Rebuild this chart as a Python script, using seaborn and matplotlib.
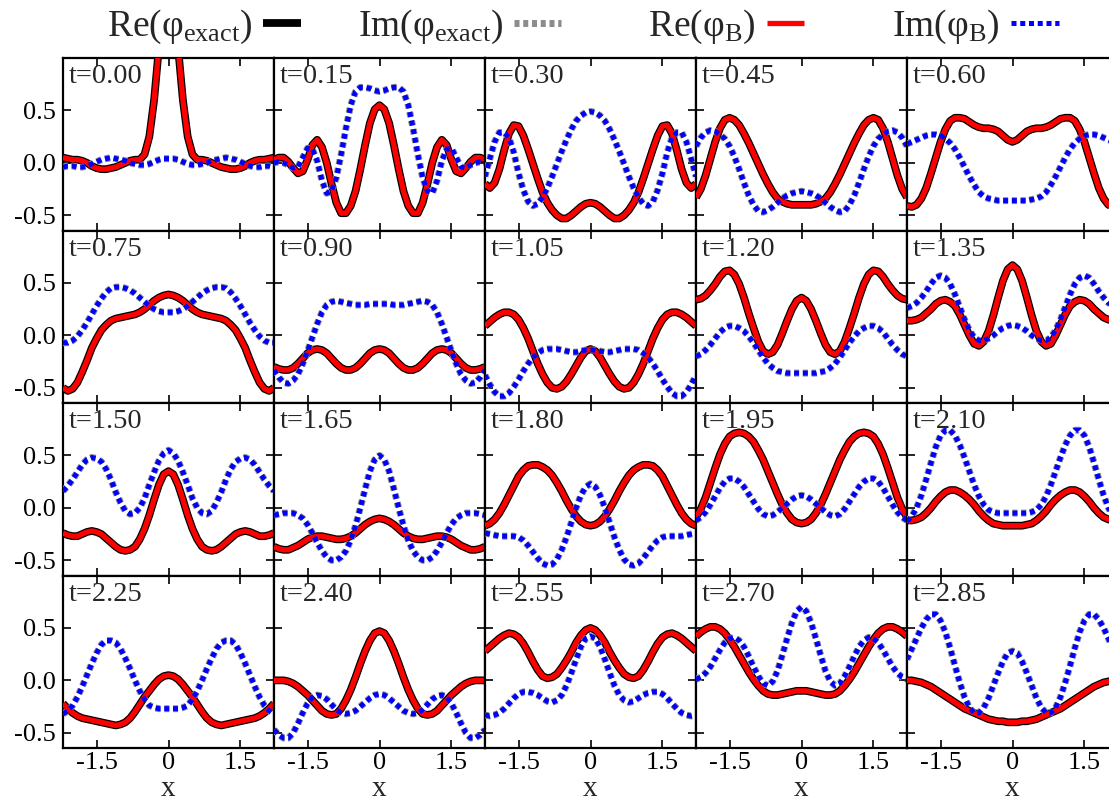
import numpy as np
import matplotlib
matplotlib.use("Agg")
import matplotlib.pyplot as plt
import seaborn as sns

# ---------------- data ----------------
x_grid = np.round(np.linspace(-2.2, 2.2, 45), 2)
times = ["0.00", "0.15", "0.30", "0.45", "0.60", "0.75", "0.90", "1.05", "1.20", "1.35",
         "1.50", "1.65", "1.80", "1.95", "2.10", "2.25", "2.40", "2.55", "2.70", "2.85"]
x_tick_vals = [-1.5, 0, 1.5]
x_tick_labels = ["-1.5", "0", "1.5"]
y_tick_vals = [-0.5, 0.0, 0.5]
y_tick_labels = ["-0.5", "0.0", "0.5"]
legend_labels = [r"Re(φ$_{\mathrm{exact}}$)", r"Im(φ$_{\mathrm{exact}}$)",
                 r"Re(φ$_{\mathrm{B}}$)", r"Im(φ$_{\mathrm{B}}$)"]

re_000 = [0.05, 0.04, 0.03, 0.03, 0.02, 0.0, -0.03, -0.05, -0.06, -0.06, -0.05, -0.04, -0.02, 0.0, 0.02, 0.03, 0.03, 0.08, 0.25, 0.6, 1.1, 1.6, 1.8, 1.6, 1.1, 0.6, 0.25, 0.08, 0.03, 0.03, 0.02, 0.0, -0.02, -0.04, -0.05, -0.06, -0.06, -0.05, -0.03, 0.0, 0.02, 0.03, 0.03, 0.04, 0.05]
im_000 = [-0.04, -0.03, -0.03, -0.04, -0.04, -0.03, -0.01, 0.01, 0.03, 0.04, 0.05, 0.04, 0.03, 0.02, 0.0, -0.01, -0.02, -0.02, -0.01, 0.01, 0.03, 0.04, 0.04, 0.04, 0.03, 0.01, -0.01, -0.02, -0.02, -0.01, 0.0, 0.02, 0.03, 0.04, 0.05, 0.04, 0.03, 0.01, -0.01, -0.03, -0.04, -0.04, -0.03, -0.03, -0.04]
re_015 = [0.03, 0.05, 0.05, 0.01, -0.05, -0.1, -0.08, 0.03, 0.17, 0.22, 0.15, 0.0, -0.2, -0.38, -0.48, -0.48, -0.41, -0.27, -0.06, 0.17, 0.38, 0.51, 0.55, 0.51, 0.38, 0.17, -0.06, -0.27, -0.41, -0.48, -0.48, -0.38, -0.2, 0.0, 0.15, 0.22, 0.17, 0.03, -0.08, -0.1, -0.05, 0.01, 0.05, 0.05, 0.03]
im_015 = [0.0, 0.01, 0.0, -0.02, -0.05, -0.04, 0.05, 0.14, 0.13, 0.02, -0.17, -0.29, -0.27, -0.14, 0.08, 0.33, 0.55, 0.68, 0.72, 0.72, 0.71, 0.69, 0.68, 0.69, 0.71, 0.72, 0.72, 0.68, 0.55, 0.33, 0.08, -0.14, -0.27, -0.29, -0.17, 0.02, 0.13, 0.14, 0.05, -0.04, -0.05, -0.02, 0.0, 0.01, 0.0]
re_030 = [-0.20, -0.24, -0.19, -0.06, 0.12, 0.28, 0.36, 0.35, 0.26, 0.13, -0.01, -0.15, -0.28, -0.38, -0.45, -0.50, -0.53, -0.53, -0.50, -0.46, -0.42, -0.39, -0.38, -0.39, -0.42, -0.46, -0.50, -0.53, -0.53, -0.50, -0.45, -0.38, -0.28, -0.15, -0.01, 0.13, 0.26, 0.35, 0.36, 0.28, 0.12, -0.06, -0.19, -0.24, -0.20]
im_030 = [-0.13, 0.04, 0.20, 0.29, 0.29, 0.24, 0.10, -0.10, -0.26, -0.37, -0.41, -0.39, -0.33, -0.24, -0.13, -0.01, 0.11, 0.22, 0.32, 0.40, 0.45, 0.48, 0.49, 0.48, 0.45, 0.40, 0.32, 0.22, 0.11, -0.01, -0.13, -0.24, -0.33, -0.39, -0.41, -0.37, -0.26, -0.10, 0.10, 0.24, 0.29, 0.29, 0.20, 0.04, -0.13]
re_045 = [-0.33, -0.25, -0.12, 0.04, 0.20, 0.33, 0.41, 0.43, 0.41, 0.36, 0.28, 0.19, 0.09, -0.01, -0.11, -0.20, -0.28, -0.34, -0.37, -0.39, -0.40, -0.40, -0.40, -0.40, -0.40, -0.39, -0.37, -0.34, -0.28, -0.20, -0.11, -0.01, 0.09, 0.19, 0.28, 0.36, 0.41, 0.43, 0.41, 0.33, 0.20, 0.04, -0.12, -0.25, -0.33]
im_045 = [0.16, 0.24, 0.29, 0.31, 0.30, 0.27, 0.23, 0.16, 0.06, -0.06, -0.19, -0.31, -0.40, -0.46, -0.47, -0.45, -0.42, -0.38, -0.34, -0.31, -0.29, -0.28, -0.27, -0.28, -0.29, -0.31, -0.34, -0.38, -0.42, -0.45, -0.47, -0.46, -0.40, -0.31, -0.19, -0.06, 0.06, 0.16, 0.23, 0.27, 0.30, 0.31, 0.29, 0.24, 0.16]
re_060 = [-0.41, -0.42, -0.40, -0.34, -0.24, -0.10, 0.05, 0.20, 0.32, 0.40, 0.43, 0.43, 0.42, 0.39, 0.36, 0.34, 0.33, 0.33, 0.32, 0.30, 0.26, 0.22, 0.20, 0.22, 0.26, 0.30, 0.32, 0.33, 0.33, 0.34, 0.36, 0.39, 0.42, 0.43, 0.43, 0.40, 0.32, 0.20, 0.05, -0.10, -0.24, -0.34, -0.40, -0.42, -0.41]
im_060 = [0.18, 0.20, 0.22, 0.24, 0.26, 0.27, 0.27, 0.26, 0.23, 0.19, 0.13, 0.05, -0.04, -0.13, -0.21, -0.28, -0.32, -0.34, -0.35, -0.36, -0.36, -0.36, -0.36, -0.36, -0.36, -0.36, -0.35, -0.34, -0.32, -0.28, -0.21, -0.13, -0.04, 0.05, 0.13, 0.19, 0.23, 0.26, 0.27, 0.27, 0.26, 0.24, 0.22, 0.20, 0.18]
re_075 = [-0.50, -0.53, -0.51, -0.45, -0.35, -0.24, -0.12, -0.03, 0.05, 0.10, 0.14, 0.16, 0.17, 0.18, 0.19, 0.20, 0.22, 0.25, 0.29, 0.33, 0.36, 0.38, 0.39, 0.38, 0.36, 0.33, 0.29, 0.25, 0.22, 0.20, 0.19, 0.18, 0.17, 0.16, 0.14, 0.10, 0.05, -0.03, -0.12, -0.24, -0.35, -0.45, -0.51, -0.53, -0.50]
im_075 = [-0.07, -0.07, -0.05, -0.01, 0.05, 0.12, 0.20, 0.28, 0.35, 0.41, 0.45, 0.46, 0.46, 0.45, 0.43, 0.40, 0.36, 0.32, 0.28, 0.25, 0.23, 0.22, 0.22, 0.22, 0.23, 0.25, 0.28, 0.32, 0.36, 0.40, 0.43, 0.45, 0.46, 0.46, 0.45, 0.41, 0.35, 0.28, 0.20, 0.12, 0.05, -0.01, -0.05, -0.07, -0.07]
re_090 = [-0.30, -0.32, -0.33, -0.33, -0.31, -0.27, -0.22, -0.17, -0.14, -0.13, -0.14, -0.17, -0.22, -0.27, -0.31, -0.33, -0.33, -0.31, -0.27, -0.22, -0.17, -0.14, -0.13, -0.14, -0.17, -0.22, -0.27, -0.31, -0.33, -0.33, -0.31, -0.27, -0.22, -0.17, -0.14, -0.13, -0.14, -0.17, -0.22, -0.27, -0.31, -0.33, -0.33, -0.32, -0.30]
im_090 = [-0.33, -0.40, -0.45, -0.46, -0.43, -0.37, -0.27, -0.15, -0.02, 0.11, 0.22, 0.29, 0.32, 0.33, 0.32, 0.31, 0.30, 0.29, 0.29, 0.29, 0.30, 0.30, 0.30, 0.30, 0.30, 0.29, 0.29, 0.29, 0.30, 0.31, 0.32, 0.33, 0.32, 0.29, 0.22, 0.11, -0.02, -0.15, -0.27, -0.37, -0.43, -0.46, -0.45, -0.40, -0.33]
re_105 = [0.09, 0.13, 0.17, 0.20, 0.22, 0.22, 0.20, 0.15, 0.07, -0.03, -0.15, -0.27, -0.37, -0.45, -0.50, -0.51, -0.49, -0.44, -0.37, -0.29, -0.21, -0.15, -0.13, -0.15, -0.21, -0.29, -0.37, -0.44, -0.49, -0.51, -0.50, -0.45, -0.37, -0.27, -0.15, -0.03, 0.07, 0.15, 0.20, 0.22, 0.22, 0.20, 0.17, 0.13, 0.09]
im_105 = [-0.38, -0.47, -0.54, -0.58, -0.58, -0.55, -0.49, -0.42, -0.34, -0.27, -0.21, -0.17, -0.14, -0.13, -0.13, -0.13, -0.14, -0.15, -0.16, -0.16, -0.15, -0.14, -0.14, -0.14, -0.15, -0.16, -0.16, -0.15, -0.14, -0.13, -0.13, -0.13, -0.14, -0.17, -0.21, -0.27, -0.34, -0.42, -0.49, -0.55, -0.58, -0.58, -0.54, -0.47, -0.38]
re_120 = [0.34, 0.35, 0.38, 0.43, 0.49, 0.56, 0.61, 0.62, 0.58, 0.49, 0.36, 0.21, 0.07, -0.06, -0.15, -0.18, -0.16, -0.09, 0.02, 0.14, 0.25, 0.33, 0.36, 0.33, 0.25, 0.14, 0.02, -0.09, -0.16, -0.18, -0.15, -0.06, 0.07, 0.21, 0.36, 0.49, 0.58, 0.62, 0.61, 0.56, 0.49, 0.43, 0.38, 0.35, 0.34]
im_120 = [-0.20, -0.18, -0.14, -0.09, -0.03, 0.03, 0.07, 0.09, 0.09, 0.07, 0.04, -0.01, -0.07, -0.14, -0.21, -0.27, -0.31, -0.34, -0.35, -0.36, -0.36, -0.36, -0.36, -0.36, -0.36, -0.36, -0.35, -0.34, -0.31, -0.27, -0.21, -0.14, -0.07, -0.01, 0.04, 0.07, 0.09, 0.09, 0.07, 0.03, -0.03, -0.09, -0.14, -0.18, -0.20]
re_135 = [0.14, 0.14, 0.15, 0.17, 0.21, 0.25, 0.30, 0.33, 0.34, 0.32, 0.28, 0.20, 0.10, 0.0, -0.08, -0.10, -0.06, 0.04, 0.19, 0.36, 0.52, 0.63, 0.67, 0.63, 0.52, 0.36, 0.19, 0.04, -0.06, -0.10, -0.08, 0.0, 0.10, 0.20, 0.28, 0.32, 0.34, 0.33, 0.30, 0.25, 0.21, 0.17, 0.15, 0.14, 0.14]
im_135 = [0.26, 0.28, 0.31, 0.36, 0.42, 0.49, 0.55, 0.57, 0.55, 0.49, 0.39, 0.27, 0.15, 0.05, -0.02, -0.05, -0.05, -0.03, 0.0, 0.04, 0.07, 0.09, 0.10, 0.09, 0.07, 0.04, 0.0, -0.03, -0.05, -0.05, -0.02, 0.05, 0.15, 0.27, 0.39, 0.49, 0.55, 0.57, 0.55, 0.49, 0.42, 0.36, 0.31, 0.28, 0.26]
re_150 = [-0.24, -0.26, -0.27, -0.27, -0.25, -0.23, -0.22, -0.23, -0.25, -0.29, -0.33, -0.37, -0.40, -0.41, -0.40, -0.37, -0.30, -0.20, -0.07, 0.08, 0.22, 0.32, 0.35, 0.32, 0.22, 0.08, -0.07, -0.20, -0.30, -0.37, -0.40, -0.41, -0.40, -0.37, -0.33, -0.29, -0.25, -0.23, -0.22, -0.23, -0.25, -0.27, -0.27, -0.26, -0.24]
im_150 = [0.16, 0.21, 0.27, 0.34, 0.41, 0.46, 0.48, 0.47, 0.44, 0.37, 0.27, 0.15, 0.05, -0.03, -0.06, -0.05, 0.0, 0.09, 0.22, 0.34, 0.45, 0.52, 0.55, 0.52, 0.45, 0.34, 0.22, 0.09, 0.0, -0.05, -0.06, -0.03, 0.05, 0.15, 0.27, 0.37, 0.44, 0.47, 0.48, 0.46, 0.41, 0.34, 0.27, 0.21, 0.16]
re_165 = [-0.37, -0.39, -0.40, -0.40, -0.38, -0.36, -0.33, -0.30, -0.28, -0.27, -0.27, -0.28, -0.29, -0.30, -0.30, -0.29, -0.27, -0.24, -0.20, -0.16, -0.13, -0.11, -0.10, -0.11, -0.13, -0.16, -0.20, -0.24, -0.27, -0.29, -0.30, -0.30, -0.29, -0.28, -0.27, -0.27, -0.28, -0.30, -0.33, -0.36, -0.38, -0.40, -0.40, -0.39, -0.37]
im_165 = [-0.07, -0.06, -0.05, -0.05, -0.05, -0.07, -0.10, -0.16, -0.24, -0.33, -0.41, -0.47, -0.50, -0.50, -0.47, -0.41, -0.31, -0.17, 0.0, 0.18, 0.35, 0.46, 0.50, 0.46, 0.35, 0.18, 0.0, -0.17, -0.31, -0.41, -0.47, -0.50, -0.50, -0.47, -0.41, -0.33, -0.24, -0.16, -0.10, -0.07, -0.05, -0.05, -0.05, -0.06, -0.07]
re_180 = [-0.17, -0.15, -0.11, -0.05, 0.03, 0.12, 0.21, 0.30, 0.36, 0.40, 0.41, 0.41, 0.39, 0.36, 0.31, 0.24, 0.16, 0.07, -0.01, -0.08, -0.13, -0.16, -0.17, -0.16, -0.13, -0.08, -0.01, 0.07, 0.16, 0.24, 0.31, 0.36, 0.39, 0.41, 0.41, 0.40, 0.36, 0.30, 0.21, 0.12, 0.03, -0.05, -0.11, -0.15, -0.17]
im_180 = [-0.24, -0.25, -0.26, -0.27, -0.27, -0.27, -0.27, -0.28, -0.31, -0.36, -0.42, -0.48, -0.53, -0.55, -0.54, -0.49, -0.40, -0.28, -0.14, 0.0, 0.12, 0.20, 0.23, 0.20, 0.12, 0.0, -0.14, -0.28, -0.40, -0.49, -0.54, -0.55, -0.53, -0.48, -0.42, -0.36, -0.31, -0.28, -0.27, -0.27, -0.27, -0.27, -0.26, -0.25, -0.24]
re_195 = [-0.09, -0.01, 0.10, 0.24, 0.38, 0.51, 0.61, 0.68, 0.71, 0.72, 0.71, 0.68, 0.63, 0.55, 0.46, 0.35, 0.24, 0.13, 0.03, -0.05, -0.11, -0.14, -0.15, -0.14, -0.11, -0.05, 0.03, 0.13, 0.24, 0.35, 0.46, 0.55, 0.63, 0.68, 0.71, 0.72, 0.71, 0.68, 0.61, 0.51, 0.38, 0.24, 0.10, -0.01, -0.09]
im_195 = [-0.12, -0.09, -0.04, 0.03, 0.11, 0.19, 0.25, 0.28, 0.28, 0.25, 0.20, 0.13, 0.06, -0.01, -0.06, -0.08, -0.07, -0.04, 0.0, 0.04, 0.08, 0.11, 0.12, 0.11, 0.08, 0.04, 0.0, -0.04, -0.07, -0.08, -0.06, -0.01, 0.06, 0.13, 0.20, 0.25, 0.28, 0.28, 0.25, 0.19, 0.11, 0.03, -0.04, -0.09, -0.12]
re_210 = [-0.12, -0.12, -0.11, -0.09, -0.05, 0.0, 0.06, 0.11, 0.15, 0.17, 0.17, 0.15, 0.12, 0.08, 0.03, -0.03, -0.08, -0.12, -0.15, -0.16, -0.17, -0.17, -0.17, -0.17, -0.17, -0.16, -0.15, -0.12, -0.08, -0.03, 0.03, 0.08, 0.12, 0.15, 0.17, 0.17, 0.15, 0.11, 0.06, 0.0, -0.05, -0.09, -0.11, -0.12, -0.12]
im_210 = [-0.13, -0.08, 0.0, 0.12, 0.27, 0.43, 0.58, 0.69, 0.74, 0.74, 0.69, 0.60, 0.48, 0.35, 0.22, 0.11, 0.03, -0.02, -0.04, -0.05, -0.05, -0.05, -0.05, -0.05, -0.05, -0.05, -0.04, -0.02, 0.03, 0.11, 0.22, 0.35, 0.48, 0.60, 0.69, 0.74, 0.74, 0.69, 0.58, 0.43, 0.27, 0.12, 0.0, -0.08, -0.13]
re_225 = [-0.22, -0.27, -0.31, -0.34, -0.36, -0.37, -0.38, -0.39, -0.40, -0.41, -0.42, -0.43, -0.42, -0.40, -0.36, -0.30, -0.23, -0.16, -0.10, -0.04, 0.01, 0.04, 0.05, 0.04, 0.01, -0.04, -0.10, -0.16, -0.23, -0.30, -0.36, -0.40, -0.42, -0.43, -0.42, -0.41, -0.40, -0.39, -0.38, -0.37, -0.36, -0.34, -0.31, -0.27, -0.22]
im_225 = [-0.32, -0.29, -0.24, -0.16, -0.06, 0.05, 0.16, 0.26, 0.34, 0.38, 0.38, 0.36, 0.30, 0.21, 0.11, 0.0, -0.10, -0.18, -0.24, -0.26, -0.27, -0.27, -0.27, -0.27, -0.27, -0.26, -0.24, -0.18, -0.10, 0.0, 0.11, 0.21, 0.30, 0.36, 0.38, 0.38, 0.34, 0.26, 0.16, 0.05, -0.06, -0.16, -0.24, -0.29, -0.32]
re_240 = [0.0, 0.0, 0.0, -0.01, -0.03, -0.06, -0.10, -0.14, -0.19, -0.24, -0.29, -0.32, -0.33, -0.32, -0.27, -0.19, -0.09, 0.03, 0.16, 0.28, 0.38, 0.45, 0.47, 0.45, 0.38, 0.28, 0.16, 0.03, -0.09, -0.19, -0.27, -0.32, -0.33, -0.32, -0.29, -0.24, -0.19, -0.14, -0.10, -0.06, -0.03, -0.01, 0.0, 0.0, 0.0]
im_240 = [-0.47, -0.52, -0.55, -0.55, -0.50, -0.41, -0.31, -0.22, -0.16, -0.14, -0.15, -0.18, -0.23, -0.28, -0.31, -0.32, -0.31, -0.29, -0.25, -0.21, -0.17, -0.14, -0.13, -0.14, -0.17, -0.21, -0.25, -0.29, -0.31, -0.32, -0.31, -0.28, -0.23, -0.18, -0.15, -0.14, -0.16, -0.22, -0.31, -0.41, -0.50, -0.55, -0.55, -0.52, -0.47]
re_255 = [0.28, 0.32, 0.36, 0.40, 0.43, 0.45, 0.44, 0.41, 0.35, 0.27, 0.18, 0.10, 0.04, 0.02, 0.03, 0.06, 0.12, 0.19, 0.27, 0.36, 0.43, 0.48, 0.50, 0.48, 0.43, 0.36, 0.27, 0.19, 0.12, 0.06, 0.03, 0.02, 0.04, 0.10, 0.18, 0.27, 0.35, 0.41, 0.44, 0.45, 0.43, 0.40, 0.36, 0.32, 0.28]
im_255 = [-0.33, -0.34, -0.33, -0.31, -0.27, -0.22, -0.17, -0.13, -0.11, -0.11, -0.12, -0.14, -0.17, -0.20, -0.21, -0.19, -0.14, -0.05, 0.07, 0.20, 0.32, 0.40, 0.42, 0.40, 0.32, 0.20, 0.07, -0.05, -0.14, -0.19, -0.21, -0.20, -0.17, -0.14, -0.12, -0.11, -0.11, -0.13, -0.17, -0.22, -0.27, -0.31, -0.33, -0.34, -0.33]
re_270 = [0.42, 0.46, 0.49, 0.51, 0.51, 0.49, 0.45, 0.39, 0.32, 0.24, 0.16, 0.08, 0.01, -0.05, -0.10, -0.13, -0.14, -0.14, -0.13, -0.12, -0.11, -0.10, -0.10, -0.10, -0.11, -0.12, -0.13, -0.14, -0.14, -0.13, -0.10, -0.05, 0.01, 0.08, 0.16, 0.24, 0.32, 0.39, 0.45, 0.49, 0.51, 0.51, 0.49, 0.46, 0.42]
im_270 = [0.01, 0.03, 0.07, 0.13, 0.21, 0.29, 0.36, 0.40, 0.41, 0.38, 0.32, 0.23, 0.13, 0.04, -0.03, -0.05, -0.01, 0.09, 0.24, 0.40, 0.55, 0.66, 0.70, 0.66, 0.55, 0.40, 0.24, 0.09, -0.01, -0.05, -0.03, 0.04, 0.13, 0.23, 0.32, 0.38, 0.41, 0.40, 0.36, 0.29, 0.21, 0.13, 0.07, 0.03, 0.01]
re_285 = [0.0, 0.0, -0.01, -0.02, -0.04, -0.06, -0.09, -0.12, -0.15, -0.18, -0.21, -0.24, -0.27, -0.29, -0.31, -0.33, -0.35, -0.37, -0.38, -0.39, -0.39, -0.40, -0.40, -0.40, -0.39, -0.39, -0.38, -0.37, -0.35, -0.33, -0.31, -0.29, -0.27, -0.24, -0.21, -0.18, -0.15, -0.12, -0.09, -0.06, -0.04, -0.02, -0.01, 0.0, 0.0]
im_285 = [0.20, 0.30, 0.40, 0.50, 0.58, 0.63, 0.63, 0.57, 0.46, 0.31, 0.14, -0.02, -0.16, -0.26, -0.31, -0.31, -0.26, -0.17, -0.05, 0.07, 0.18, 0.26, 0.28, 0.26, 0.18, 0.07, -0.05, -0.17, -0.26, -0.31, -0.31, -0.26, -0.16, -0.02, 0.14, 0.31, 0.46, 0.57, 0.63, 0.63, 0.58, 0.50, 0.40, 0.30, 0.20]

# exact and B solutions coincide within reading accuracy
re_exact = [re_000, re_015, re_030, re_045, re_060, re_075, re_090, re_105, re_120, re_135,
            re_150, re_165, re_180, re_195, re_210, re_225, re_240, re_255, re_270, re_285]
im_exact = [im_000, im_015, im_030, im_045, im_060, im_075, im_090, im_105, im_120, im_135,
            im_150, im_165, im_180, im_195, im_210, im_225, im_240, im_255, im_270, im_285]
re_B = re_exact
im_B = im_exact

# ---------------- style ----------------
sns.set_style("ticks")
plt.rcParams["font.family"] = ["Liberation Serif", "DejaVu Serif"]
plt.rcParams["mathtext.fontset"] = "custom"
plt.rcParams["mathtext.rm"] = "Liberation Serif"
plt.rcParams["mathtext.it"] = "Liberation Serif:italic"

W, H = 1109, 800
fig = plt.figure(figsize=(W / 100, H / 100), dpi=100)
fig.patch.set_facecolor("white")

left0, top0, pw, ph = 63, 58, 211, 172.5
ncol = 5

sty_re_ex = dict(color="black", linewidth=5.6, solid_capstyle="butt", zorder=2)
sty_im_ex = dict(color="#8c8c8c", linewidth=5.0, linestyle=(0, (0.72, 0.54)), zorder=3)
sty_re_b = dict(color="#ff0000", linewidth=3.8, solid_capstyle="butt", zorder=4)
sty_im_b = dict(color="#0000ff", linewidth=3.6, linestyle=(0, (1.0, 0.75)), zorder=5)

first_ax = None
for k, t in enumerate(times):
    r, c = divmod(k, ncol)
    ax = fig.add_axes([(left0 + c * pw) / W, 1 - (top0 + (r + 1) * ph) / H, pw / W, ph / H])
    if first_ax is None:
        first_ax = ax
    common = dict(ax=ax, estimator=None, errorbar=None, sort=False)
    sns.lineplot(x=x_grid, y=re_exact[k], **common, **sty_re_ex)
    sns.lineplot(x=x_grid, y=im_exact[k], **common, **sty_im_ex)
    sns.lineplot(x=x_grid, y=re_B[k], **common, **sty_re_b)
    sns.lineplot(x=x_grid, y=im_B[k], **common, **sty_im_b)

    ax.set_xlim(-2.2, 2.2)
    ax.set_ylim(-0.645, 1.0)
    ax.set_xticks(x_tick_vals)
    ax.set_yticks(y_tick_vals)
    ax.set_xticklabels(x_tick_labels)
    ax.set_yticklabels(y_tick_labels)
    ax.tick_params(direction="in", length=6, width=1.2, top=True, right=True,
                   labelsize=19, colors="black")
    ax.tick_params(axis="y", pad=5)
    ax.tick_params(axis="x", pad=3)
    ax.tick_params(labelleft=(c == 0), labelbottom=(r == 3))
    for sp in ax.spines.values():
        sp.set_visible(True)
        sp.set_linewidth(1.6)
        sp.set_color("black")
    ax.set_xlabel("x" if r == 3 else "", fontsize=21, labelpad=1)
    ax.set_ylabel("")
    ax.text(0.025, 0.965, f"t={t}", transform=ax.transAxes, ha="left", va="top",
            fontsize=20.5, zorder=10)

# legend at the top: label followed by the line sample
handles = first_ax.lines[:4]
leg_x = [107, 358, 648, 892]
leg_hl = [1.0, 1.25, 1.0, 1.3]
for h, lbl, lx, hl in zip(handles, legend_labels, leg_x, leg_hl):
    fig.legend(handles=[h], labels=[lbl], loc="center left",
               bbox_to_anchor=(lx / W, 1 - 27 / H), frameon=False, markerfirst=False,
               handlelength=hl, handletextpad=0.3, borderpad=0, borderaxespad=0,
               fontsize=27)

fig.savefig("out.png", dpi=100)
